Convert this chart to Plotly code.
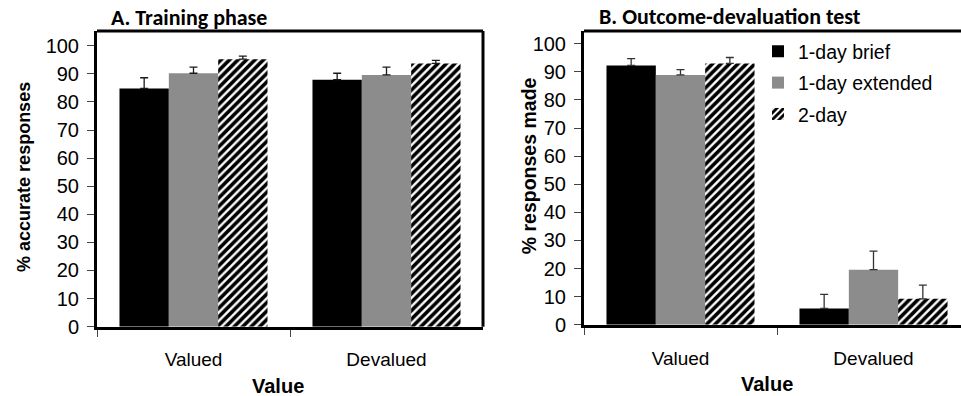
import plotly.graph_objects as go

# ---- data ----
categories = ["Valued", "Devalued"]
series_names = ["1-day brief", "1-day extended", "2-day"]

training_means = {
    "1-day brief": [84.8, 87.9],
    "1-day extended": [90.2, 89.6],
    "2-day": [95.2, 93.7],
}
training_errs = {
    "1-day brief": [3.8, 2.3],
    "1-day extended": [2.2, 2.8],
    "2-day": [1.1, 1.1],
}
test_means = {
    "1-day brief": [92.3, 5.8],
    "1-day extended": [88.9, 19.6],
    "2-day": [93.0, 9.2],
}
test_errs = {
    "1-day brief": [2.4, 5.0],
    "1-day extended": [1.9, 6.6],
    "2-day": [2.1, 4.9],
}
y_ticks = [0, 10, 20, 30, 40, 50, 60, 70, 80, 90, 100]

# ---- styles ----
W, H = 961, 396
FONT = "Arial, 'Liberation Sans', sans-serif"
TITLE_FONT = "Calibri, Carlito, Lato, sans-serif"
styles = {
    "1-day brief": dict(color="#000000"),
    "1-day extended": dict(color="#8c8c8c"),
    "2-day": dict(color="#ffffff",
                  pattern=dict(shape="/", fgcolor="#000000", bgcolor="#ffffff",
                               fgopacity=1, size=6, solidity=0.6)),
}

fig = go.Figure()

for panel, (means, errs) in enumerate([(training_means, training_errs),
                                       (test_means, test_errs)]):
    xa = "x" if panel == 0 else "x2"
    ya = "y" if panel == 0 else "y2"
    for name in series_names:
        fig.add_trace(go.Bar(
            x=categories, y=means[name], name=name,
            xaxis=xa, yaxis=ya,
            marker=dict(line=dict(width=0), **styles[name]),
            error_y=dict(type="data", symmetric=False, array=errs[name],
                         arrayminus=[0] * len(categories),
                         color="#1a1a1a" if panel == 0 else "#333333",
                         thickness=1.3, width=4),
            showlegend=(panel == 1),
            legendgroup=name,
        ))

def px_x(p):
    return p / W

def px_y(p):
    return 1 - p / H

axis_common = dict(showgrid=False, zeroline=False, showline=True,
                   linecolor="black", linewidth=3)
xaxis_common = dict(type="category", ticks="outside", tickson="boundaries",
                    ticklen=7, tickcolor="#444", tickfont=dict(size=19),
                    ticklabelstandoff=14, **axis_common)
yaxis_common = dict(tickvals=y_ticks, ticks="outside", ticklen=7,
                    tickcolor="#444", tickfont=dict(size=20),
                    ticklabelstandoff=4, **axis_common)

fig.update_layout(
    width=W, height=H,
    margin=dict(l=0, r=0, t=0, b=0),
    paper_bgcolor="white", plot_bgcolor="white",
    barmode="group", bargap=0.233, bargroupgap=0,
    font=dict(family=FONT, color="black", size=19),
    xaxis=dict(domain=[px_x(97), px_x(483)], anchor="y",
               range=[-0.5, 1.5], **xaxis_common),
    yaxis=dict(domain=[px_y(336), px_y(32)], anchor="x",
               range=[0, 105.2], **yaxis_common),
    xaxis2=dict(domain=[px_x(584), 1.0], anchor="y2",
                range=[-0.5, 1.5 - 9 / 193], **xaxis_common),
    yaxis2=dict(domain=[px_y(334), px_y(32)], anchor="x2",
                range=[0, 104.5], **yaxis_common),
    legend=dict(x=px_x(758), y=px_y(33), xanchor="left", yanchor="top",
                font=dict(size=19.5), bgcolor="rgba(0,0,0,0)",
                tracegroupgap=3, itemwidth=30),
    shapes=[
        dict(type="line", xref="x domain", yref="y domain", x0=0, x1=1, y0=1, y1=1,
             line=dict(color="black", width=3)),
        dict(type="line", xref="x domain", yref="y domain", x0=1, x1=1, y0=0, y1=1,
             line=dict(color="black", width=3)),
        dict(type="line", xref="x2 domain", yref="y2 domain", x0=0, x1=1, y0=1, y1=1,
             line=dict(color="black", width=3)),
    ],
    annotations=[
        dict(text="<b>A. Training phase</b>", x=px_x(109), y=px_y(18),
             xref="paper", yref="paper", xanchor="left", yanchor="middle",
             showarrow=False, font=dict(family=TITLE_FONT, size=22)),
        dict(text="<b>B. Outcome-devaluation test</b>", x=px_x(597), y=px_y(17),
             xref="paper", yref="paper", xanchor="left", yanchor="middle",
             showarrow=False, font=dict(family=TITLE_FONT, size=22)),
        dict(text="<b>% accurate responses</b>", x=px_x(24), y=px_y(182),
             xref="paper", yref="paper", xanchor="center", yanchor="middle",
             textangle=-90, showarrow=False, font=dict(size=18)),
        dict(text="<b>% responses made</b>", x=px_x(529), y=px_y(171),
             xref="paper", yref="paper", xanchor="center", yanchor="middle",
             textangle=-90, showarrow=False, font=dict(size=19.5)),
        dict(text="<b>Value</b>", x=px_x(278), y=px_y(397),
             xref="paper", yref="paper", xanchor="center", yanchor="middle",
             showarrow=False, font=dict(size=20)),
        dict(text="<b>Value</b>", x=px_x(767), y=px_y(395),
             xref="paper", yref="paper", xanchor="center", yanchor="middle",
             showarrow=False, font=dict(size=20)),
    ],
)

fig.write_html("out.html",
               config={"displayModeBar": False},
               post_script="document.body.style.margin='0';"
                           "document.body.style.overflow='hidden';")
